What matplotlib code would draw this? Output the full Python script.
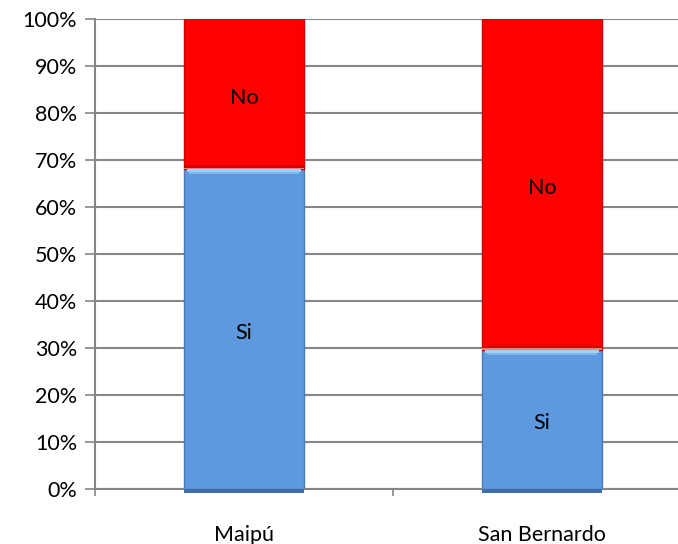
import matplotlib
matplotlib.use("Agg")
import matplotlib.pyplot as plt
from matplotlib.ticker import FixedLocator, NullFormatter

plt.rcParams['font.family'] = ['Lato', 'DejaVu Sans']

categories = ["Maipú", "San Bernardo"]
si_pct = [68, 29.5]
no_pct = [32, 70.5]
y_ticks = [0, 10, 20, 30, 40, 50, 60, 70, 80, 90, 100]
y_tick_labels = [f"{v}%" for v in y_ticks]

blue = "#5E98DE"
blue_edge = "#4A7DB8"
blue_light = "#9CD2F8"
red = "#FF0000"
red_dark = "#C00000"
grid_gray = "#868686"
fs = 15.5

fig = plt.figure(figsize=(6.78, 5.44), dpi=100)
ax = fig.add_axes([95 / 678, 55 / 544, 596 / 678, 470 / 544])

x = list(range(len(categories)))
width = 0.4

ax.bar(x, si_pct, width=width, color=blue, edgecolor=blue_edge, linewidth=1.0, zorder=3)
ax.bar(x, no_pct, width=width, bottom=si_pct, color=red, edgecolor="#D00000", linewidth=1.0, zorder=3)

# bevel highlights on the segment boundaries
ax.bar(x, [0.5] * len(x), width=width * 0.96, bottom=[s - 0.5 for s in si_pct],
       color=blue_light, linewidth=0, zorder=4)
ax.bar(x, [0.5] * len(x), width=width * 0.92, bottom=[s - 1.0 for s in si_pct],
       color="#80B8EE", linewidth=0, zorder=4)
ax.bar(x, [0.4] * len(x), width=width, bottom=si_pct,
       color="#E88080", linewidth=0, zorder=4)
ax.bar(x, [0.6] * len(x), width=width, bottom=[s + 0.4 for s in si_pct],
       color=red_dark, linewidth=0, alpha=0.6, zorder=4)
ax.bar(x, [1.0] * len(x), width=width, bottom=[-0.9] * len(x),
       color="#3F6FA8", linewidth=0, zorder=4, clip_on=False)

for xi, s, n in zip(x, si_pct, no_pct):
    ax.text(xi, s / 2 - 0.8, "Si", ha="center", va="center", fontsize=fs, zorder=5)
    ax.text(xi, s + n / 2 - 0.8, "No", ha="center", va="center", fontsize=fs, zorder=5)

ax.set_ylim(0, 100)
ax.set_xlim(-0.5, 1.5)
ax.set_yticks(y_ticks)
ax.set_yticklabels(y_tick_labels, fontsize=fs)
ax.yaxis.grid(True, color=grid_gray, linewidth=1.5, zorder=0)
ax.set_axisbelow(True)

ax.xaxis.set_major_locator(FixedLocator([-0.5, 0.5, 1.5]))
ax.xaxis.set_major_formatter(NullFormatter())
ax.xaxis.set_minor_locator(FixedLocator(x))
ax.set_xticklabels(categories, minor=True, fontsize=fs)
ax.tick_params(axis="x", which="minor", length=0, pad=26)
ax.tick_params(axis="x", which="major", length=5, width=1.2, color=grid_gray, direction="out")
ax.tick_params(axis="y", length=7, width=1.2, color=grid_gray, direction="out", pad=6)

for side in ["top", "right"]:
    ax.spines[side].set_visible(False)
for side in ["left", "bottom"]:
    ax.spines[side].set_color(grid_gray)
    ax.spines[side].set_linewidth(1.5)
ax.spines["bottom"].set_zorder(2)

fig.savefig("out.png", dpi=100)
